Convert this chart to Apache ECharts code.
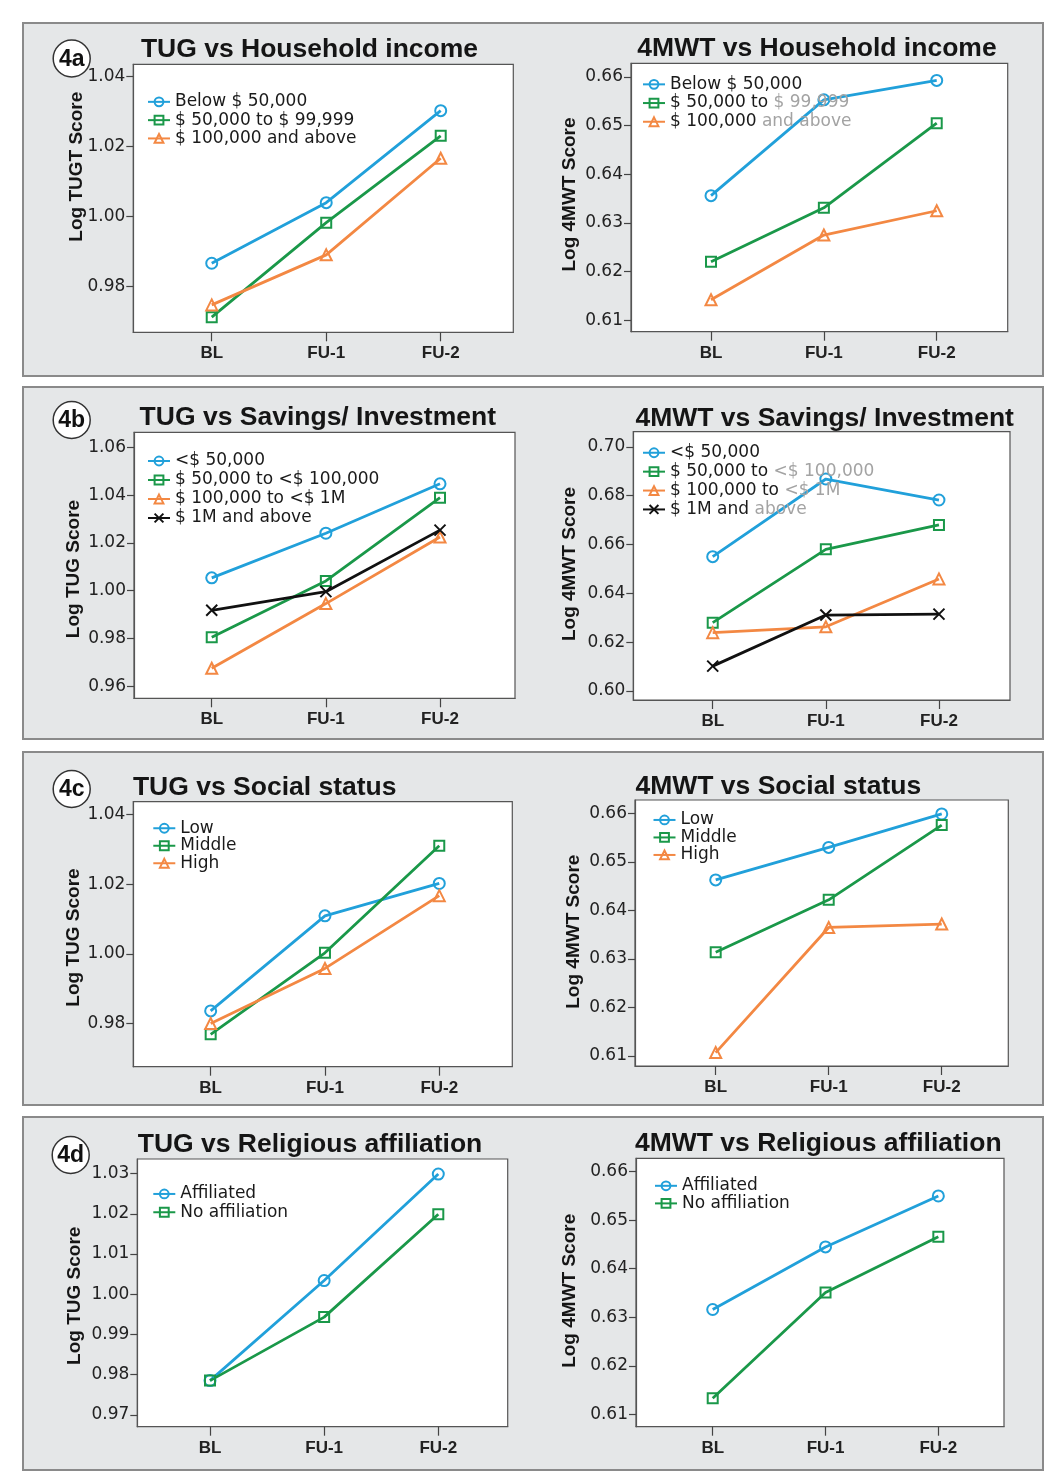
<!DOCTYPE html>
<html><head><meta charset="utf-8">
<script src="https://cdn.jsdelivr.net/npm/echarts@6/dist/echarts.min.js"></script>
<style>html,body{margin:0;padding:0;background:#fff}#c{width:1048px;height:1484px}</style>
</head><body><div id="c"></div>
<script>
// ---------------- DATA ----------------
const xCats = ['BL', 'FU-1', 'FU-2'];

const incomeNames = ['Below $ 50,000', '$ 50,000 to $ 99,999', '$ 100,000 and above'];
const savingsNames = ['<$ 50,000', '$ 50,000 to <$ 100,000', '$ 100,000 to <$ 1M', '$ 1M and above'];
const socialNames = ['Low', 'Middle', 'High'];
const religionNames = ['Affiliated', 'No affiliation'];

// 4a TUG vs Household income
const tugIncomeLow  = [0.9867, 1.0040, 1.0303];
const tugIncomeMid  = [0.9713, 0.9983, 1.0231];
const tugIncomeHigh = [0.9748, 0.9891, 1.0167];
// 4a 4MWT vs Household income
const mwtIncomeLow  = [0.6356, 0.6553, 0.6593];
const mwtIncomeMid  = [0.6220, 0.6331, 0.6505];
const mwtIncomeHigh = [0.6142, 0.6275, 0.6325];
// 4b TUG vs Savings/ Investment
const tugSav50k  = [1.0054, 1.0241, 1.0448];
const tugSav100k = [0.9805, 1.0041, 1.0390];
const tugSav1M   = [0.9675, 0.9946, 1.0225];
const tugSavAbove= [0.9918, 0.9996, 1.0254];
// 4b 4MWT vs Savings/ Investment
const mwtSav50k  = [0.6550, 0.6868, 0.6782];
const mwtSav100k = [0.6280, 0.6580, 0.6680];
const mwtSav1M   = [0.6239, 0.6263, 0.6459];
const mwtSavAbove= [0.6102, 0.6311, 0.6315];
// 4c TUG vs Social status
const tugSocLow  = [0.9836, 1.0109, 1.0202];
const tugSocMid  = [0.9769, 1.0003, 1.0310];
const tugSocHigh = [0.9800, 0.9958, 1.0167];
// 4c 4MWT vs Social status
const mwtSocLow  = [0.6463, 0.6530, 0.6599];
const mwtSocMid  = [0.6314, 0.6422, 0.6576];
const mwtSocHigh = [0.6107, 0.6365, 0.6372];
// 4d TUG vs Religious affiliation
const tugRelAff  = [0.9785, 1.0034, 1.0299];
const tugRelNone = [0.9785, 0.9943, 1.0199];
// 4d 4MWT vs Religious affiliation
const mwtRelAff  = [0.6316, 0.6445, 0.6550];
const mwtRelNone = [0.6133, 0.6351, 0.6466];

// tick labels
const tugTicksA = [0.98, 1.00, 1.02, 1.04];
const mwtTicksA = [0.61, 0.62, 0.63, 0.64, 0.65, 0.66];
const tugTicksB = [0.96, 0.98, 1.00, 1.02, 1.04, 1.06];
const mwtTicksB = [0.60, 0.62, 0.64, 0.66, 0.68, 0.70];
const tugTicksC = [0.98, 1.00, 1.02, 1.04];
const mwtTicksC = [0.61, 0.62, 0.63, 0.64, 0.65, 0.66];
const tugTicksD = [0.97, 0.98, 0.99, 1.00, 1.01, 1.02, 1.03];
const mwtTicksD = [0.61, 0.62, 0.63, 0.64, 0.65, 0.66];

const titles = ['TUG vs Household income', '4MWT vs Household income',
  'TUG vs Savings/ Investment', '4MWT vs Savings/ Investment',
  'TUG vs Social status', '4MWT vs Social status',
  'TUG vs Religious affiliation', '4MWT vs Religious affiliation'];
const yNames = ['Log TUGT Score', 'Log 4MWT Score', 'Log TUG Score', 'Log 4MWT Score',
  'Log TUG Score', 'Log 4MWT Score', 'Log TUG Score', 'Log 4MWT Score'];
const panelTags = ['4a', '4b', '4c', '4d'];

// ---------------- STRUCTURE ----------------
const panelData = [
  {names: incomeNames, values: [tugIncomeLow, tugIncomeMid, tugIncomeHigh], ticks: tugTicksA},
  {names: incomeNames, values: [mwtIncomeLow, mwtIncomeMid, mwtIncomeHigh], ticks: mwtTicksA},
  {names: savingsNames, values: [tugSav50k, tugSav100k, tugSav1M, tugSavAbove], ticks: tugTicksB},
  {names: savingsNames, values: [mwtSav50k, mwtSav100k, mwtSav1M, mwtSavAbove], ticks: mwtTicksB},
  {names: socialNames, values: [tugSocLow, tugSocMid, tugSocHigh], ticks: tugTicksC},
  {names: socialNames, values: [mwtSocLow, mwtSocMid, mwtSocHigh], ticks: mwtTicksC},
  {names: religionNames, values: [tugRelAff, tugRelNone], ticks: tugTicksD},
  {names: religionNames, values: [mwtRelAff, mwtRelNone], ticks: mwtTicksD}
];

// ---------------- LAYOUT & STYLE ----------------
const layout = [
  {grid:[133.3,64.3,380,268],    x:[-0.685,2.634], y:[0.96697,1.04354], lg:[147,92.7,18.3],  title:[309.5,50],    yName:[76.7,166.7]},
  {grid:[631,63.3,376.7,268.4],  x:[-0.709,2.629], y:[0.60763,0.66282], lg:[642,75,18.7],    title:[817,48.9],    yName:[570,194.5], gray:true},
  {grid:[134,432.3,381,266],     x:[-0.681,2.657], y:[0.9549,1.0664],   lg:[147,451.5,19],   title:[317.8,417.5], yName:[74,569]},
  {grid:[633.3,431.7,376.7,268.3],x:[-0.702,2.628],y:[0.59633,0.70617], lg:[642,443.3,18.9], title:[824.7,418.8], yName:[570,564], gray:true},
  {grid:[133.3,801.7,379,265],   x:[-0.677,2.639], y:[0.96759,1.04367], lg:[152.3,819.5,17.5],title:[264.7,787.5], yName:[73.3,937.5]},
  {grid:[635,800,373.3,266],     x:[-0.714,2.589], y:[0.60793,0.66278], lg:[652.5,811.2,17.5],title:[778.3,787],  yName:[573.3,931.7]},
  {grid:[137.3,1159,370.4,267.7],x:[-0.637,2.608], y:[0.96703,1.03364], lg:[152.3,1184.8,18.3],title:[310,1145],  yName:[74.3,1295.8]},
  {grid:[636,1158.3,368,268.4],  x:[-0.68,2.582],  y:[0.60745,0.66276], lg:[654,1177,17.6],  title:[818.3,1143.7],yName:[570,1290.8]}
];
const outerPanels = [[23,23,1020,353],[23,387,1020,352],[23,752,1020,353],[23,1117,1020,353]];
const tagCircles = [[71.7,58.5],[71.7,420],[71.7,789],[70.7,1155]];

const colors = ['#21a0da', '#1a9849', '#f38843', '#111111'];
const symbols = ['circle', 'rect', 'triangle', 'path://M0,0L10,10M10,0L0,10'];
const symbolSizes = [11, 10, 11, 11];
const grayPart = {
  '$ 50,000 to $ 99,999': '$ 99,999',
  '$ 100,000 and above': 'and above',
  '$ 50,000 to <$ 100,000': '<$ 100,000',
  '$ 100,000 to <$ 1M': '<$ 1M',
  '$ 1M and above': 'above'
};

const tickFont = '"DejaVu Sans", sans-serif';
const boldFont = '"Liberation Sans", Arial, sans-serif';

const grids = [], xAxes = [], yAxes = [], series = [], legends = [], graphics = [];

outerPanels.forEach(r => graphics.push({
  type: 'rect', z: -10, shape: {x: r[0], y: r[1], width: r[2], height: r[3]},
  style: {fill: '#e5e7e8', stroke: '#8a8a8a', lineWidth: 2}
}));

tagCircles.forEach((c, i) => {
  graphics.push({type: 'circle', z: -5, shape: {cx: c[0], cy: c[1], r: 18.5},
    style: {fill: '#fff', stroke: '#333', lineWidth: 1.5}});
  graphics.push({type: 'text', z: -4, x: c[0], y: c[1] + 1,
    style: {text: panelTags[i], font: 'bold 23px ' + boldFont, fill: '#111',
      textAlign: 'center', textVerticalAlign: 'middle'}});
});

panelData.forEach((p, k) => {
  const L = layout[k];
  grids.push({left: L.grid[0], top: L.grid[1], width: L.grid[2], height: L.grid[3],
    show: true, backgroundColor: '#ffffff', borderColor: '#555', borderWidth: 1.2});
  xAxes.push({type: 'value', gridIndex: k, min: L.x[0], max: L.x[1],
    axisLine: {show: true, onZero: false, lineStyle: {color: '#555', width: 1.2}},
    splitLine: {show: false},
    axisTick: {show: true, customValues: [0, 1, 2], length: 9, lineStyle: {color: '#444', width: 1.2}},
    axisLabel: {show: true, customValues: [0, 1, 2], margin: 13,
      formatter: v => xCats[Math.round(v)] || '',
      fontFamily: boldFont, fontWeight: 'bold', fontSize: 17, color: '#222'}
  });
  yAxes.push({type: 'value', gridIndex: k, min: L.y[0], max: L.y[1],
    axisLine: {show: true, onZero: false, lineStyle: {color: '#555', width: 1.2}},
    splitLine: {show: false},
    axisTick: {show: true, customValues: p.ticks, length: 7, lineStyle: {color: '#444', width: 1.2}},
    axisLabel: {show: true, customValues: p.ticks, margin: 8,
      formatter: v => Number(v).toFixed(2),
      fontFamily: tickFont, fontSize: 17, color: '#222'}
  });
  p.values.forEach((vals, i) => {
    series.push({
      type: 'line', name: p.names[i], xAxisIndex: k, yAxisIndex: k,
      data: vals.map((v, j) => [j, v]),
      symbol: symbols[i], symbolSize: symbolSizes[i], showAllSymbol: true,
      lineStyle: {color: colors[i], width: 2.8},
      itemStyle: {color: 'rgba(255,255,255,0)', borderColor: colors[i], borderWidth: 2},
      emphasis: {disabled: true}, silent: true, animation: false
    });
  });
  legends.push({
    orient: 'vertical', left: L.lg[0], top: L.lg[1], padding: 0, itemGap: 0,
    itemWidth: 22, itemHeight: 11, data: p.names, selectedMode: false,
    formatter: name => {
      const g = L.gray ? grayPart[name] : null;
      if (!g) return name;
      const idx = name.lastIndexOf(g);
      return name.slice(0, idx) + '{g|' + g + '}';
    },
    textStyle: {fontFamily: tickFont, fontSize: 17, color: '#1a1a1a', lineHeight: L.lg[2],
      rich: {g: {fontFamily: tickFont, fontSize: 17, color: '#a3a3a3', lineHeight: L.lg[2]}}}
  });
  graphics.push({type: 'text', z: -4, x: L.title[0], y: L.title[1],
    style: {text: titles[k], font: 'bold 26.5px ' + boldFont, fill: '#151515',
      textAlign: 'center', textVerticalAlign: 'middle'}});
  graphics.push({type: 'text', z: -4, x: L.yName[0], y: L.yName[1], rotation: Math.PI / 2,
    style: {text: yNames[k], font: 'bold 19px ' + boldFont, fill: '#151515',
      textAlign: 'center', textVerticalAlign: 'middle'}});
});

const chart = echarts.init(document.getElementById('c'), null, {renderer: 'canvas'});
chart.setOption({
  backgroundColor: '#ffffff',
  animation: false,
  grid: grids, xAxis: xAxes, yAxis: yAxes, series: series, legend: legends,
  graphic: {elements: graphics}
});
</script>
</body></html>
